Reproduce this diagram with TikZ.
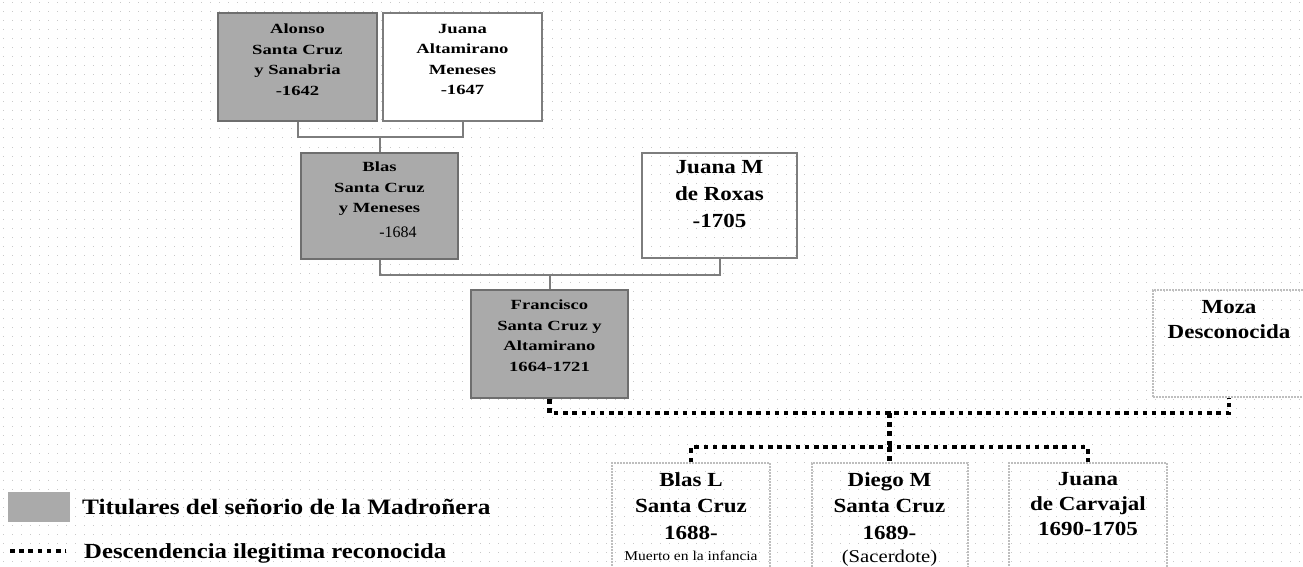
\documentclass[tikz,border=0pt]{standalone}
\usepackage{fontspec}
\setmainfont{Liberation Serif}
\newfontfamily\famfont[FakeStretch=1.15]{Liberation Serif}
\newfontfamily\topfont[FakeStretch=1.33]{Liberation Serif}
\usetikzlibrary{positioning}
\definecolor{titgray}{RGB}{170,170,170}
\definecolor{titedge}{RGB}{110,110,110}
\definecolor{linkgray}{RGB}{125,125,125}
\definecolor{lightedge}{RGB}{190,190,190}
\definecolor{griddot}{RGB}{200,200,200}

\begin{document}
\begin{tikzpicture}[x=1pt, y=-1pt,
  person/.style={line width=2pt, inner sep=0pt},
  titular/.style={person, fill=titgray, draw=titedge},
  spouse/.style={person, fill=white, draw=linkgray},
  plain/.style={person, draw=linkgray},
  child/.style={person, draw=lightedge, dash pattern=on 2pt off 1pt},
  txt/.style={anchor=north, align=center, inner sep=0pt},
  small/.style={txt, font=\topfont\bfseries\fontsize{14}{20.5}\selectfont},
  big/.style={txt, font=\famfont\bfseries\fontsize{20}{26.5}\selectfont},
  legtxt/.style={inner sep=0pt, anchor=base west, font=\famfont\bfseries\fontsize{22}{26}\selectfont},
  link/.style={draw=linkgray, line width=2pt},
  ilegit/.style={line width=4.5pt, dash pattern=on 4.5pt off 4.7pt}
]
\useasboundingbox (0,0) rectangle (1303,567);
\clip (0,0) rectangle (1303,567);
\fill[white] (0,0) rectangle (1303,567);
% dotted paper
\foreach \gy in {3,12,...,567}
  \draw[griddot, line width=1pt, dash pattern=on 1pt off 8pt, dash phase=-3pt] (0,\gy) -- (1303,\gy);

% first generation
\node[titular, minimum width=159pt, minimum height=108pt,
  label={[small, yshift=-12pt]north:Alonso\\Santa Cruz\\y Sanabria\\-1642}] (alonso) at (297.5,67) {};
\node[spouse, minimum width=159pt, minimum height=108pt,
  label={[small, yshift=-12pt]north:Juana\\Altamirano\\Meneses\\-1647}] (juanaa) at (462.5,67) {};

% second generation
\node[titular, minimum width=157pt, minimum height=106pt,
  label={[small, yshift=-10pt]north:Blas\\Santa Cruz\\y Meneses\\[4pt]\hspace*{37pt}{\mdseries\rmfamily\fontsize{16}{18}\selectfont -1684}}] (blas) at (379.5,206) {};
\node[plain, minimum width=155pt, minimum height=105pt,
  label={[big, yshift=-8pt, font=\famfont\bfseries\fontsize{20}{27}\selectfont]north:Juana M\\de Roxas\\-1705}] (juanam) at (719.5,205.5) {};

% third generation
\node[titular, minimum width=157pt, minimum height=108pt,
  label={[small, yshift=-11pt]north:Francisco\\Santa Cruz y\\Altamirano\\1664-1721}] (fran) at (549.5,344) {};
\node[child, minimum width=152pt, minimum height=107pt,
  label={[big, yshift=-11pt, font=\famfont\bfseries\fontsize{20}{25}\selectfont]north:Moza\\Desconocida}] (moza) at (1229,343.5) {};

% children
\node[child, minimum width=158pt, minimum height=114pt,
  label={[big, yshift=-10pt]north:Blas L\\Santa Cruz\\1688-\\[-5pt]{\mdseries\fontsize{13.5}{15}\selectfont Muerto en la infancia}}] (blasl) at (691,520) {};
\node[child, minimum width=156pt, minimum height=114pt,
  label={[big, yshift=-10pt]north:Diego M\\Santa Cruz\\1689-\\[-3pt]{\mdseries\fontsize{18}{20}\selectfont (Sacerdote)}}] (diego) at (889.5,520) {};
\node[child, minimum width=158pt, minimum height=114pt,
  label={[big, yshift=-10pt, font=\famfont\bfseries\fontsize{20}{25}\selectfont]north:Juana\\de Carvajal\\1690-1705}] (juanac) at (1088,520) {};

% marriages
\coordinate (m1) at (379.5,137);
\coordinate (m2) at (549.5,275);
\draw[link] (alonso.south) |- (m1) -| (juanaa.south);
\draw[link] (m1) -- (blas.north);
\draw[link] (blas.south) |- (m2) -| (juanam.south);
\draw[link] (m2) -- (fran.north);

% illegitimate line
\coordinate (m3) at (889.5,413);
\coordinate (m4) at (889.5,447);
\draw[ilegit] (fran.south) |- (m3) -| (moza.south);
\draw[ilegit] (m3) -- (m4);
\draw[ilegit] (blasl.north) |- (m4) -| (juanac.north);
\draw[ilegit] (m4) -- (diego.north);

% legend
\node[titular, draw=none, minimum width=62pt, minimum height=30pt] (legbox) at (39,507) {};
\node[legtxt] (legtit) at (82,514) {Titulares del señorio de la Madroñera};
\coordinate (lga) at (10,551);
\coordinate (lgb) at (66,551);
\draw[ilegit] (lga) -- (lgb);
\node[legtxt, font=\famfont\bfseries\fontsize{21.5}{26}\selectfont] (legdesc) at (84,558) {Descendencia ilegitima reconocida};
\end{tikzpicture}
\end{document}
